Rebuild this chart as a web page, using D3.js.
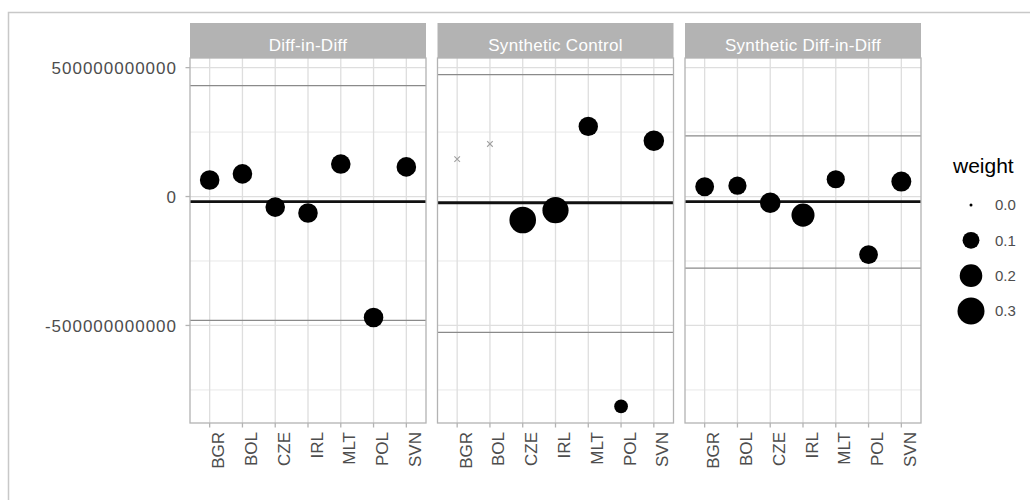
<!DOCTYPE html>
<html>
<head>
<meta charset="utf-8">
<script src="https://cdn.jsdelivr.net/npm/d3@7"></script>
<style>
  html, body { margin: 0; padding: 0; background: #ffffff; }
  svg { display: block; font-family: "Liberation Sans", Arial, sans-serif; }
</style>
</head>
<body>
<svg id="chart" width="1030" height="500"></svg>
<script>
// Unit-level effect estimates by method, with unit weights
const categories = ["BGR", "BOL", "CZE", "IRL", "MLT", "POL", "SVN"];
const methods = ["Diff-in-Diff", "Synthetic Control", "Synthetic Diff-in-Diff"];

const didEffect  = [64e9, 88e9, -41e9, -64e9, 126e9, -469e9, 115e9];
const didWeight  = [0.143, 0.143, 0.143, 0.143, 0.143, 0.143, 0.143];
const scEffect   = [145e9, 204e9, -91e9, -53e9, 272e9, -814e9, 216e9];
const scWeight   = [0, 0, 0.29, 0.28, 0.14, 0.06, 0.16];
const sdidEffect = [38e9, 42e9, -24e9, -72e9, 67e9, -225e9, 58e9];
const sdidWeight = [0.13, 0.12, 0.16, 0.21, 0.12, 0.13, 0.15];

// Overall estimate and interval bounds per method
const estimate = [-20e9, -24e9, -20e9];
const ciLower  = [-480e9, -527e9, -278e9];
const ciUpper  = [430e9, 473e9, 235e9];

const yMajorTicks = [-5e11, 0, 5e11];
const yMinorTicks = [-7.5e11, -2.5e11, 2.5e11];
const yTickLabels = ["-500000000000", "0", "500000000000"];
const legendBreaks = [0.0, 0.1, 0.2, 0.3];
const legendLabels = ["0.0", "0.1", "0.2", "0.3"];

const effects = [didEffect, scEffect, sdidEffect];
const weights = [didWeight, scWeight, sdidWeight];

const svg = d3.select("#chart");

// Outer frame
svg.append("rect")
  .attr("x", 8.5).attr("y", 12.5)
  .attr("width", 1040).attr("height", 500)
  .attr("fill", "none").attr("stroke", "#c8c8c8").attr("stroke-width", 1.5);

// Layout
const plotLeft = 190, plotRight = 921, gap = 11.5;
const panelW = (plotRight - plotLeft - 2 * gap) / 3;
const stripTop = 23, panelTop = 58, panelBottom = 423;

// Shared y scale with 5% expansion of the data range
const allVals = [].concat(didEffect, scEffect, sdidEffect, ciLower, ciUpper, estimate);
const yMin = d3.min(allVals), yMax = d3.max(allVals);
const pad = (yMax - yMin) * 0.05;
const y = d3.scaleLinear().domain([yMin - pad, yMax + pad]).range([panelBottom, panelTop]);

// Point diameter scale (area-proportional)
const diam = d3.scaleSqrt().domain([0, 0.3]).range([3, 27]);

const grey70 = "#b3b3b3", grey87 = "#dedede", grey30 = "#4d4d4d";

methods.forEach((m, i) => {
  const x0 = plotLeft + i * (panelW + gap);
  const x = d3.scalePoint().domain(categories).range([x0, x0 + panelW]).padding(0.6);
  const g = svg.append("g");

  // Minor grid
  g.selectAll(".ymin").data(yMinorTicks).join("line")
    .attr("x1", x0).attr("x2", x0 + panelW)
    .attr("y1", d => y(d)).attr("y2", d => y(d))
    .attr("stroke", grey87).attr("stroke-width", 0.7);
  // Major grid
  g.selectAll(".ymaj").data(yMajorTicks).join("line")
    .attr("x1", x0).attr("x2", x0 + panelW)
    .attr("y1", d => y(d)).attr("y2", d => y(d))
    .attr("stroke", grey87).attr("stroke-width", 1.3);
  g.selectAll(".xmaj").data(categories).join("line")
    .attr("x1", d => x(d)).attr("x2", d => x(d))
    .attr("y1", panelTop).attr("y2", panelBottom)
    .attr("stroke", grey87).attr("stroke-width", 1.3);

  // Interval bounds
  [ciLower[i], ciUpper[i]].forEach(v => {
    g.append("line")
      .attr("x1", x0).attr("x2", x0 + panelW)
      .attr("y1", y(v)).attr("y2", y(v))
      .attr("stroke", "#8a8a8a").attr("stroke-width", 1.2);
  });
  // Overall estimate
  g.append("line")
    .attr("x1", x0).attr("x2", x0 + panelW)
    .attr("y1", y(estimate[i])).attr("y2", y(estimate[i]))
    .attr("stroke", "#111").attr("stroke-width", 2.8);

  // Unit points
  const rows = categories.map((c, j) => ({ c, v: effects[i][j], w: weights[i][j] }));
  g.selectAll(".pt").data(rows.filter(r => r.w > 0)).join("circle")
    .attr("cx", d => x(d.c)).attr("cy", d => y(d.v))
    .attr("r", d => diam(d.w) / 2)
    .attr("fill", "#000");
  // Zero-weight units as crosses
  const s = 2.8;
  g.selectAll(".zx").data(rows.filter(r => r.w === 0)).join("path")
    .attr("d", d => {
      const cx = x(d.c), cy = y(d.v);
      return `M${cx - s},${cy - s}L${cx + s},${cy + s}M${cx - s},${cy + s}L${cx + s},${cy - s}`;
    })
    .attr("stroke", "#a0a0a0").attr("stroke-width", 1.1).attr("fill", "none");

  // Panel border
  g.append("rect")
    .attr("x", x0).attr("y", panelTop)
    .attr("width", panelW).attr("height", panelBottom - panelTop)
    .attr("fill", "none").attr("stroke", grey70).attr("stroke-width", 1.3);

  // Strip
  g.append("rect")
    .attr("x", x0).attr("y", stripTop)
    .attr("width", panelW).attr("height", panelTop - stripTop)
    .attr("fill", grey70);
  g.append("text")
    .attr("x", x0 + panelW / 2).attr("y", 51)
    .attr("text-anchor", "middle")
    .attr("fill", "#ffffff").attr("font-size", 17)
    .attr("letter-spacing", 0.3)
    .text(m);

  // X ticks and labels
  g.selectAll(".xt").data(categories).join("line")
    .attr("x1", d => x(d)).attr("x2", d => x(d))
    .attr("y1", panelBottom).attr("y2", panelBottom + 4.5)
    .attr("stroke", grey70).attr("stroke-width", 1.3);
  g.selectAll(".xl").data(categories).join("text")
    .attr("transform", d => `translate(${x(d) + 14.5},${panelBottom + 9}) rotate(-90)`)
    .attr("text-anchor", "end")
    .attr("fill", grey30).attr("font-size", 17)
    .text(d => d);
});

// Y axis ticks and labels (left panel only)
const ya = svg.append("g");
ya.selectAll("line").data(yMajorTicks).join("line")
  .attr("x1", plotLeft - 4.5).attr("x2", plotLeft)
  .attr("y1", d => y(d)).attr("y2", d => y(d))
  .attr("stroke", grey70).attr("stroke-width", 1.3);
ya.selectAll("text").data(yMajorTicks).join("text")
  .attr("x", plotLeft - 13).attr("y", d => y(d))
  .attr("dy", "0.36em")
  .attr("text-anchor", "end")
  .attr("fill", grey30).attr("font-size", 17)
  .attr("letter-spacing", 1)
  .text((d, k) => yTickLabels[k]);

// Legend
const lg = svg.append("g");
lg.append("text")
  .attr("x", 953).attr("y", 173)
  .attr("fill", "#000").attr("font-size", 21)
  .text("weight");
const legendY = d3.scalePoint().domain(legendLabels).range([205, 311]);
lg.selectAll("circle").data(legendBreaks).join("circle")
  .attr("cx", 971).attr("cy", (d, k) => legendY(legendLabels[k]))
  .attr("r", d => diam(d) / 2)
  .attr("fill", "#000");
lg.selectAll(".ll").data(legendLabels).join("text")
  .attr("x", 995).attr("y", d => legendY(d))
  .attr("dy", "0.36em")
  .attr("fill", grey30).attr("font-size", 15)
  .text(d => d);
</script>
</body>
</html>
